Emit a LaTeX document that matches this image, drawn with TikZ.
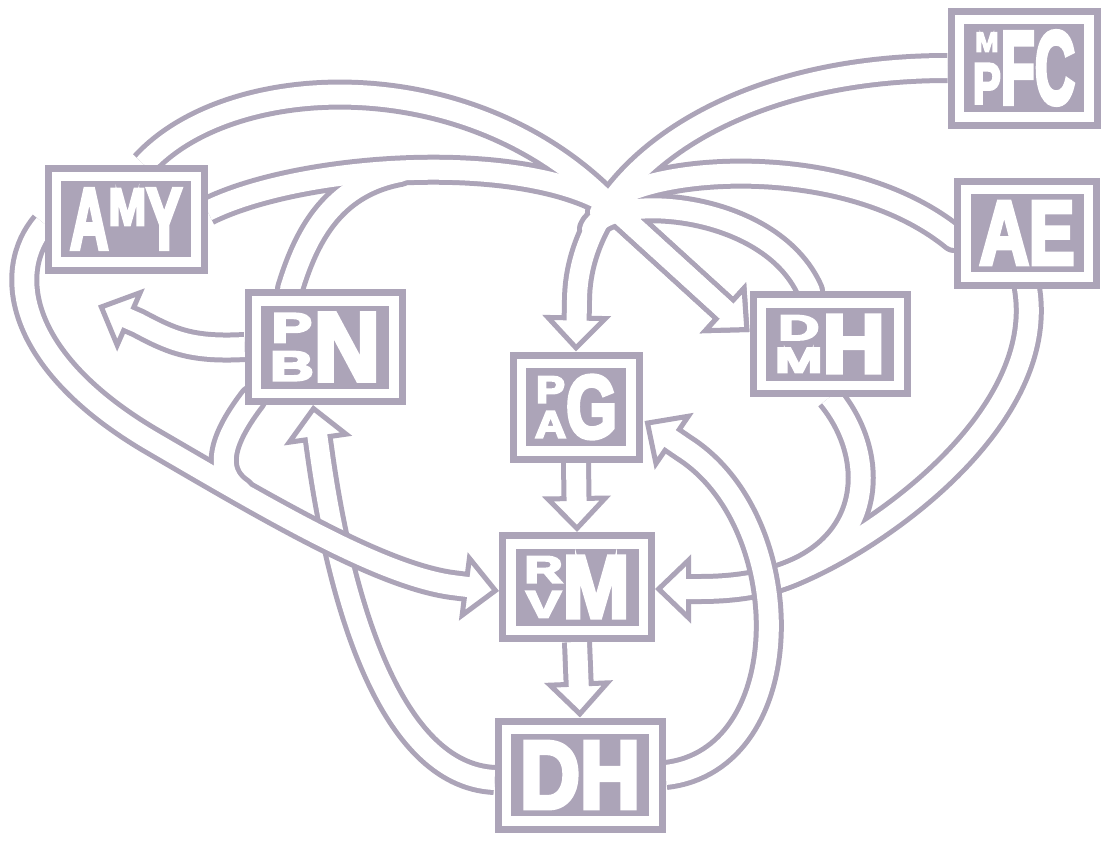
\documentclass[tikz,border=0pt]{standalone}
\usepackage{fontspec}
\usepackage{graphicx}
\setmainfont{Liberation Sans}
\newfontfamily\blk{Liberation Sans}[FakeBold=5]
\usetikzlibrary{arrows.meta,calc}
\definecolor{lc}{RGB}{172,164,184}
\pgfdeclarelayer{back}
\pgfdeclarelayer{bg}
\pgfsetlayers{back,bg,main}
\newsavebox\lbx
\newcommand\stk[2]{\begingroup\sbox\lbx{H}\vbox to\ht\lbx{\offinterlineskip\halign{\hfil##\hfil\cr\scalebox{.66}[.43]{#1}\cr\noalign{\vss}\scalebox{.66}[.43]{#2}\cr}}\endgroup}
\newcommand\stkm[2]{\begingroup\sbox\lbx{H}\vbox to\ht\lbx{\offinterlineskip\halign{\hfil##\hfil\cr\scalebox{.5}[.27]{#1}\cr\noalign{\vss}\scalebox{.75}[.56]{#2}\cr}}\endgroup}
\newcommand\topl[1]{\begingroup\sbox\lbx{H}\vbox to\ht\lbx{\hbox{\scalebox{.85}[.6]{#1}}\vss}\endgroup}
\tikzset{
 pA/.style={insert path={(mpfc.west) .. controls (720,68) and (578,180) .. (577,300) -- (pag.north)}},
 pB/.style={insert path={($(ae.west)+(0,5)$) .. controls (840,145) and (624,168) .. (600,212)}},
 pC/.style={insert path={($(dmh.north)+(-20,0)$) .. controls (770,200) and (608,192) .. (592,229)}},
 pD/.style={insert path={($(amy.north)+(18,0)$) .. controls (230,70) and (470,60) .. (610,205) -- ($(dmh.west)+(0,-12)$)}},
 pE/.style={insert path={($(amy.east)+(0,-8)$) .. controls (300,165) and (520,150) .. (610,205) -- ($(dmh.west)+(0,-12)$)}},
 pF/.style={insert path={($(pbn.north)+(-35,0)$) .. controls (305,240) and (330,185) .. (400,172)}},
 p7/.style={insert path={($(amy.west)+(0,5)$) .. controls (5,270) and (15,360) .. (150,440) .. controls (270,510) and (380,575) .. (452,585) -- ($(rvm.west)+(0,4)$)}},
 p8/.style={insert path={($(pbn.south west)+(8,-6)$) .. controls (225,435) and (210,470) .. (241,491)}},
 p9/.style={insert path={(pbn.west) .. controls (190,350) and (170,340) .. (138,323) -- ($(amy.south)+(-28,32)$)}},
 p10/.style={insert path={($(dh.west)+(0,5)$) .. controls (390,775) and (340,600) .. (319.5,451) -- ($(pbn.south)+(-12,0)$)}},
 p11/.style={insert path={(dh.east) .. controls (800,760) and (800,522) .. (684,448) -- ($(pag.east)+(2,14)$)}},
 p12/.style={insert path={(dmh.south) .. controls (890,470) and (870,589) .. (700,589) -- ($(rvm.east)+(0,2)$)}},
 p13/.style={insert path={(ae.south) .. controls (1050,430) and (845,562) .. (767,581.5)}},
 p14/.style={insert path={(pag.south) -- (rvm.north)}},
 p15/.style={insert path={(rvm.south) -- (dh.north)}},
}
\begin{document}
\begin{tikzpicture}[x=1pt,y=-1pt,
  box/.style={draw=lc, line width=7pt, fill=white, inner sep=0pt, text=white, font=\blk\bfseries,
    path picture={\fill[lc] ([shift={(13pt,13pt)}]path picture bounding box.south west) rectangle ([shift={(-13pt,-13pt)}]path picture bounding box.north east);}},
  gp/.style={draw=lc, line width=30pt, line cap=round},
  wp/.style={draw=white, line width=20pt, line cap=round},
  hd/.style={line cap=butt, -{Triangle[width=68pt,length=36pt,line width=5pt,fill=white]}},
  wh/.style={line cap=butt, shorten >=26pt}]
\useasboundingbox (0,0) rectangle (1109,841);
\begin{pgfonlayer}{back}
\fill[white] (0,0) rectangle (1109,841);
\end{pgfonlayer}
\node[box, minimum width=146pt, minimum height=114pt] (mpfc) at (1024,68) {\resizebox{102pt}{72pt}{\stkm{M}{P}FC}};
\node[box, minimum width=139pt, minimum height=104pt] (ae) at (1027,233) {\resizebox{95pt}{62pt}{AE}};
\node[box, minimum width=156pt, minimum height=102pt] (amy) at (126,219) {\resizebox{112pt}{60pt}{A\topl{M}Y}};
\node[box, minimum width=154pt, minimum height=109pt] (pbn) at (325,347) {\resizebox{110pt}{67pt}{\stk{P}{B}N}};
\node[box, minimum width=126pt, minimum height=104pt] (pag) at (576,407) {\resizebox{82pt}{62pt}{\stk{P}{A}G}};
\node[box, minimum width=154pt, minimum height=99pt] (dmh) at (830,344) {\resizebox{110pt}{57pt}{\stk{D}{M}H}};
\node[box, minimum width=149pt, minimum height=103pt] (rvm) at (577,587) {\resizebox{105pt}{61pt}{\stk{R}{V}M}};
\node[box, minimum width=164pt, minimum height=108pt] (dh) at (580,775) {\resizebox{120pt}{66pt}{DH}};
\begin{pgfonlayer}{bg}
% DH -> PBN (under the long band)
\draw[gp,hd,p10]; \draw[wp,wh,p10];
% lower-left group
\draw[gp,hd,p7]; \draw[gp,p8]; \draw[gp,hd,p9];
\draw[wp,wh,p7]; \draw[wp,p8]; \draw[wp,wh,p9];
% top junction group
\draw[gp,hd,pA]; \draw[gp,pB]; \draw[gp,pC]; \draw[gp,hd,pD]; \draw[gp,hd,pE]; \draw[gp,pF];
\draw[wp,wh,pA]; \draw[wp,pB]; \draw[wp,pC]; \draw[wp,wh,pD]; \draw[wp,wh,pE]; \draw[wp,pF];
% right group
\draw[gp,hd,p12]; \draw[gp,p13];
\draw[wp,wh,p12]; \draw[wp,p13];
% DH -> PAG (over)
\draw[gp,hd,p11]; \draw[wp,wh,p11];
% vertical chain
\draw[gp,hd,p14]; \draw[wp,wh,p14];
\draw[gp,hd,p15]; \draw[wp,wh,p15];
\end{pgfonlayer}
\end{tikzpicture}
\end{document}
